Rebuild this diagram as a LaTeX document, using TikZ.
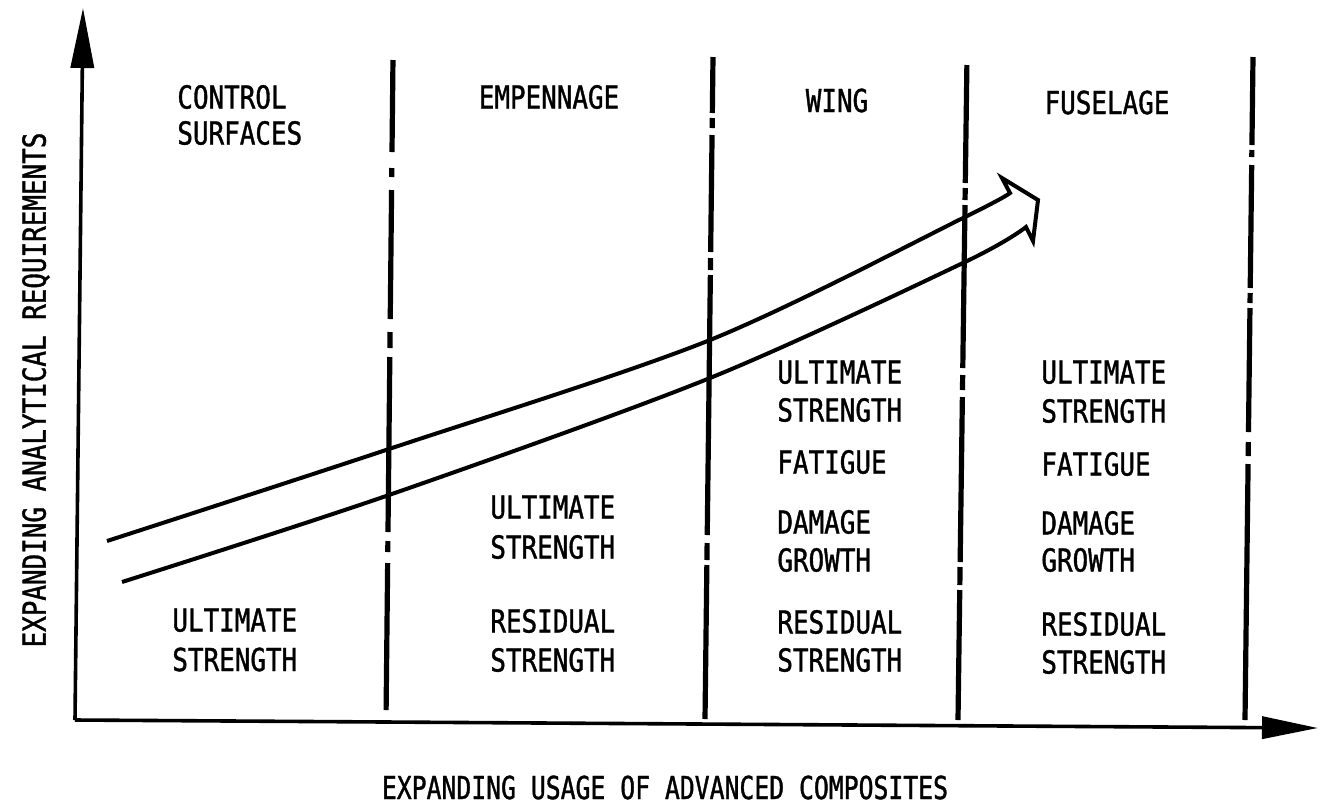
\documentclass[tikz,border=0pt]{standalone}
\usepackage{fontspec}
\usetikzlibrary{arrows.meta}
\newfontfamily\lettering[FakeStretch=0.82,FakeBold=1.2]{DejaVu Sans Mono}
\tikzset{
  lbl/.style={font=\lettering\fontsize{15.8pt}{19pt}\selectfont, inner sep=0pt, anchor=base west},
  lblc/.style={lbl, anchor=base},
  axisline/.style={line width=1.8pt},
  divline/.style={line width=2.6pt},
  bandline/.style={line width=2pt, line join=miter, miter limit=20},
}
\newcommand\mydivider[3]{%
  \foreach \a/\b in {#3}{%
    \pgfmathsetmacro\xa{#1+(#2-#1)*(\a-57)/663}%
    \pgfmathsetmacro\xb{#1+(#2-#1)*(\b-57)/663}%
    \draw[divline] (\xa,\a) -- (\xb,\b);
  }}
\begin{document}
\begin{tikzpicture}[x=0.5pt,y=-0.5pt]
\useasboundingbox (0,0) rectangle (1329,805);
% axes
\coordinate (O) at (75,720);
\coordinate (ytip) at (83,8);
\coordinate (xtip) at (1318,728);
\draw[axisline,-{Triangle[length=30pt,width=11.5pt]}] (O) -- (ytip);
\draw[axisline,-{Triangle[length=28pt,width=11pt]}] (O) -- (xtip);
% dividers
\mydivider{393}{386}{60/152,168/177,190/319,332/348,357/532,541/552,563/710}
\mydivider{713}{705}{57/113,118/128,135/252,258/270,275/535,543/560,565/719}
\mydivider{967}{958}{65/183,188/200,205/368,375/390,397/562,567/585,590/720}
\mydivider{1253}{1245}{57/145,150/157,165/288,293/303,308/432,442/456,464/720}
% broad arrow
\draw[bandline] plot[smooth] coordinates {(107,541) (389,449) (710,340) (965,217) (1010,193)}
  -- (1002,178) -- (1038,200) -- (1033,241) -- (1026,227)
  -- plot[smooth] coordinates {(1026,227) (965,262) (710,378) (389,495) (122,582)};
% headers
\node[lbl] (h1a) at (177,108.5) {CONTROL};
\node[lbl] (h1b) at (177,144.5) {SURFACES};
\node[lblc] (h2) at (549,108.5) {EMPENNAGE};
\node[lblc] (h3) at (837,112) {WING};
\node[lblc] (h4) at (1107,114) {FUSELAGE};
% control surfaces column
\node[lbl] (c1) at (172,631.5) {ULTIMATE};
\node[lbl] (c2) at (172,671) {STRENGTH};
% empennage column
\node[lbl] (e1) at (490,518.5) {ULTIMATE};
\node[lbl] (e2) at (490,558.5) {STRENGTH};
\node[lbl] (e3) at (490,632.5) {RESIDUAL};
\node[lbl] (e4) at (490,671.5) {STRENGTH};
% wing column
\node[lbl] (w1) at (777,383.5) {ULTIMATE};
\node[lbl] (w2) at (777,421.5) {STRENGTH};
\node[lbl] (w3) at (777,473.5) {FATIGUE};
\node[lbl] (w4) at (777,533.5) {DAMAGE};
\node[lbl] (w5) at (777,571.5) {GROWTH};
\node[lbl] (w6) at (777,633.5) {RESIDUAL};
\node[lbl] (w7) at (777,671.5) {STRENGTH};
% fuselage column
\node[lbl] (f1) at (1041,383.5) {ULTIMATE};
\node[lbl] (f2) at (1041,422.5) {STRENGTH};
\node[lbl] (f3) at (1041,475.5) {FATIGUE};
\node[lbl] (f4) at (1041,534.5) {DAMAGE};
\node[lbl] (f5) at (1041,571.5) {GROWTH};
\node[lbl] (f6) at (1041,635.5) {RESIDUAL};
\node[lbl] (f7) at (1041,673.5) {STRENGTH};
% axis labels
\node[lblc] (xl) at (665,799) {\scalebox{0.955}[1]{EXPANDING USAGE OF ADVANCED COMPOSITES}};
\node[lbl, anchor=center, rotate=90] (yl) at (36,390) {EXPANDING ANALYTICAL REQUIREMENTS};
\end{tikzpicture}
\end{document}
